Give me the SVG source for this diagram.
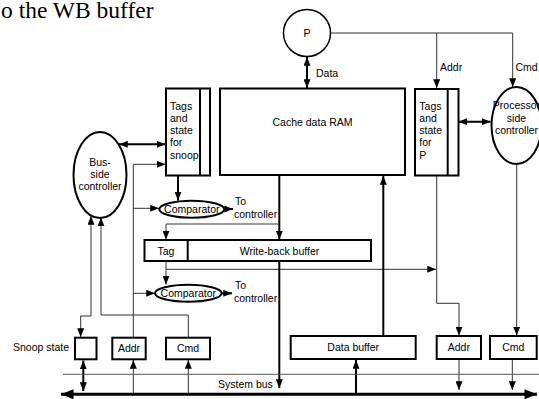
<svg xmlns="http://www.w3.org/2000/svg" width="539" height="399" viewBox="0 0 539 399">
<defs>
<marker id="ah" viewBox="0 0 10 8" refX="10" refY="4" markerWidth="9" markerHeight="7" markerUnits="userSpaceOnUse" orient="auto-start-reverse"><path d="M0,0 L10,4 L0,8 z" fill="#000"/></marker>
<marker id="bh" viewBox="0 0 10 8" refX="10" refY="4" markerWidth="13" markerHeight="10" markerUnits="userSpaceOnUse" orient="auto-start-reverse"><path d="M0,0 L10,4 L0,8 z" fill="#000"/></marker>
<style>
.box{fill:#fff;stroke:#000;stroke-width:2}
.t{font-family:"Liberation Sans",Arial,sans-serif;font-size:10.5px;fill:#000}
.c{text-anchor:middle}
.thin{fill:none;stroke:#333;stroke-width:1}
.thick{fill:none;stroke:#000;stroke-width:2}
.a{marker-end:url(#ah)}
.d{marker-start:url(#ah);marker-end:url(#ah)}
</style>
</defs>
<rect width="539" height="399" fill="#fff"/>
<text x="1" y="18" font-family="'Liberation Serif','Times New Roman',serif" font-size="23.5">o the WB buffer</text>

<g id="connectors">
<path class="thin a" d="M331,33 H512.7 V87"/>
<path class="thin a" d="M436.7,33 V88"/>
<path class="thick d" d="M307,57 V88"/>
<path class="thick d" d="M458.5,121.7 H490.5"/>
<path class="thick d" d="M119,144.3 H165.5"/>
<path class="thin a" d="M133.3,337 V164.3 H165.5"/>
<path class="thin a" d="M133.3,208.3 H159"/>
<path class="thin a" d="M133.3,293.3 H155"/>
<path class="thick a" d="M178,176 V200.5"/>
<path class="thick a" d="M224.5,209 H233"/>
<path class="thick a" d="M279.3,176 V239.5"/>
<path class="thin a" d="M279.3,224 H166 V239.5"/>
<path class="thin a" d="M166,262 V284.5"/>
<path class="thin a" d="M166,269.3 H436"/>
<path class="thick a" d="M221.5,293.3 H232"/>
<path class="thick a" d="M279.3,262 V388"/>
<path class="thick a" d="M383.3,336 V176"/>
<path class="thin a" d="M436.7,176 V303.3 H459 V335.5"/>
<path class="thin a" d="M516.7,164 V335.5"/>
<path class="thin d" d="M91,216 V316 H80.7 V337"/>
<path class="thin" d="M101,217.5 V315 H188.3 V337.5" marker-start="url(#ah)"/>
<path class="thick d" d="M83.3,360.5 V391"/>
<path class="thin a" d="M133.3,394 V360"/>
<path class="thin a" d="M188.3,394 V360"/>
<path class="thick a" d="M356,394 V360"/>
<path class="thin a" d="M459,359.5 V390"/>
<path class="thin a" d="M512.3,359.5 V390"/>
<path d="M63,374.3 H539" stroke="#555" stroke-width="1"/>
<path d="M61,394.3 H537" stroke="#000" stroke-width="3" marker-start="url(#bh)" marker-end="url(#bh)"/>
<text class="t" x="316" y="76.5">Data</text>
<text class="t" x="440" y="70.5">Addr</text>
<text class="t" x="515.5" y="70.5">Cmd</text>
<text class="t" x="235" y="204.5">To</text>
<text class="t" x="234" y="217.5">controller</text>
<text class="t" x="235" y="289">To</text>
<text class="t" x="234" y="301.5">controller</text>
<text class="t" x="218" y="388">System bus</text>
</g>

<g id="P">
<circle cx="307" cy="33" r="23.5" fill="#fff" stroke="#000" stroke-width="1.5"/>
<text class="t c" x="307" y="37">P</text>
</g>

<g id="cache-ram">
<rect class="box" x="220" y="88.5" width="185" height="86.5"/>
<text class="t c" x="312.5" y="126">Cache data RAM</text>
</g>

<g id="tags-snoop">
<rect class="box" x="166" y="88.5" width="44" height="87"/>
<line x1="200" y1="88.5" x2="200" y2="175.5" stroke="#000" stroke-width="2"/>
<text class="t" x="170" y="109.5">Tags</text>
<text class="t" x="170" y="121.8">and</text>
<text class="t" x="170" y="134.1">state</text>
<text class="t" x="170" y="146.4">for</text>
<text class="t" x="170" y="158.7">snoop</text>
</g>

<g id="tags-p">
<rect class="box" x="415" y="89" width="43.5" height="86.5"/>
<line x1="447.7" y1="89" x2="447.7" y2="175.5" stroke="#000" stroke-width="2"/>
<text class="t" x="419.3" y="109.5">Tags</text>
<text class="t" x="419.3" y="121.8">and</text>
<text class="t" x="419.3" y="134.1">state</text>
<text class="t" x="419.3" y="146.4">for</text>
<text class="t" x="419.3" y="158.7">P</text>
</g>

<g id="proc-ctrl">
<ellipse cx="516.5" cy="125.5" rx="25" ry="38.5" fill="#fff" stroke="#000" stroke-width="2"/>
<text class="t c" x="516.5" y="109">Processor</text>
<text class="t c" x="516.5" y="121.5">side</text>
<text class="t c" x="516.5" y="134">controller</text>
</g>

<g id="bus-ctrl">
<ellipse cx="100" cy="175" rx="26.5" ry="43" fill="#fff" stroke="#000" stroke-width="2"/>
<text class="t c" x="100" y="166">Bus-</text>
<text class="t c" x="100" y="178">side</text>
<text class="t c" x="100" y="189.5">controller</text>
</g>

<g id="comparator1">
<ellipse cx="191.8" cy="209.2" rx="32.5" ry="8.5" fill="#fff" stroke="#000" stroke-width="2"/>
<text class="t c" x="191.8" y="213" font-size="11">Comparator</text>
</g>

<g id="wb-buffer">
<rect class="box" x="144.5" y="240" width="226.5" height="21"/>
<line x1="187.7" y1="240" x2="187.7" y2="261" stroke="#000" stroke-width="2"/>
<text class="t c" x="166" y="254.5">Tag</text>
<text class="t c" x="279.5" y="254.5">Write-back buffer</text>
</g>

<g id="comparator2">
<ellipse cx="188.3" cy="293.3" rx="33.3" ry="8.5" fill="#fff" stroke="#000" stroke-width="2"/>
<text class="t c" x="188.3" y="297" font-size="11">Comparator</text>
</g>

<g id="snoop-state">
<rect class="box" x="75" y="337.7" width="21.5" height="21.6"/>
<text class="t" x="13" y="350.5">Snoop state</text>
</g>

<g id="addr-left">
<rect class="box" x="112.3" y="337.7" width="33.4" height="21.6"/>
<text class="t c" x="129" y="352">Addr</text>
</g>

<g id="cmd-left">
<rect class="box" x="166" y="337.7" width="44" height="21.6"/>
<text class="t c" x="188" y="352">Cmd</text>
</g>

<g id="data-buffer">
<rect class="box" x="290.7" y="336" width="125" height="23"/>
<text class="t c" x="353.2" y="351">Data buffer</text>
</g>

<g id="addr-right">
<rect class="box" x="436.7" y="336" width="44.3" height="23"/>
<text class="t c" x="458.8" y="351">Addr</text>
</g>

<g id="cmd-right">
<rect class="box" x="490" y="336" width="46.7" height="23"/>
<text class="t c" x="513.3" y="351">Cmd</text>
</g>
</svg>
